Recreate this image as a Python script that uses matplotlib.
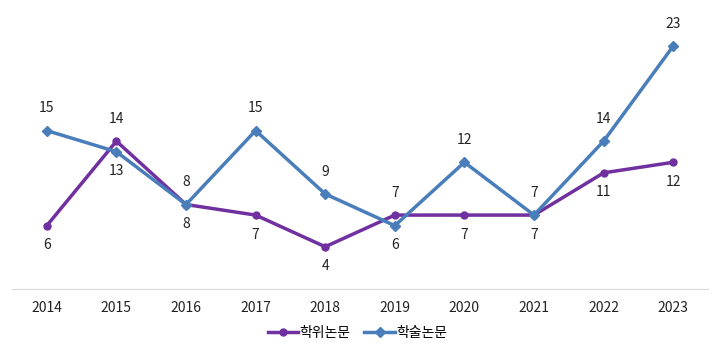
import matplotlib
matplotlib.use('Agg')
import matplotlib.pyplot as plt

plt.rcParams['font.family'] = ['Noto Sans CJK KR', 'DejaVu Sans']

years = ['2014', '2015', '2016', '2017', '2018', '2019', '2020', '2021', '2022', '2023']
degree = [6, 14, 8, 7, 4, 7, 7, 7, 11, 12]      # 학위논문
journal = [15, 13, 8, 15, 9, 6, 12, 7, 14, 23]  # 학술논문
# label placement: 1 = above, -1 = below
degree_pos = [-1, 1, -1, -1, -1, 1, -1, -1, -1, -1]
journal_pos = [1, -1, 1, 1, 1, -1, 1, 1, 1, 1]

purple = '#7030A0'
blue = '#4A7EBB'

fig = plt.figure(figsize=(7.15, 3.52), dpi=100)
ax = fig.add_axes([12 / 715, 63 / 352, 696 / 715, 264 / 352])

x = list(range(len(years)))
ax.plot(x, degree, color=purple, lw=2.5, marker='o', ms=5, label='학위논문')
ax.plot(x, journal, color=blue, lw=2.5, marker='D', ms=5, label='학술논문')

def put_labels(vals, pos):
    for xi, v, p in zip(x, vals, pos):
        off = 16 if p > 0 else -14
        ax.annotate(str(v), (xi, v), xytext=(0, off), textcoords='offset points',
                    ha='center', va='center', fontsize=10, color='#222222')

put_labels(degree, degree_pos)
put_labels(journal, journal_pos)

ax.set_xlim(-0.5, len(years) - 0.5)
ax.set_ylim(0, 25)
ax.set_xticks(x)
ax.set_xticklabels(years, fontsize=10, color='#222222')
ax.tick_params(axis='x', length=0, pad=9)
ax.set_yticks([])
for s in ['top', 'right', 'left']:
    ax.spines[s].set_visible(False)
ax.spines['bottom'].set_color('#D9D9D9')

fig.legend(loc='center', bbox_to_anchor=(0.5, 19 / 352), ncol=2, frameon=False,
           fontsize=10, handlelength=2.2, columnspacing=1.0, handletextpad=0.1)

fig.savefig('out.png', dpi=100)
